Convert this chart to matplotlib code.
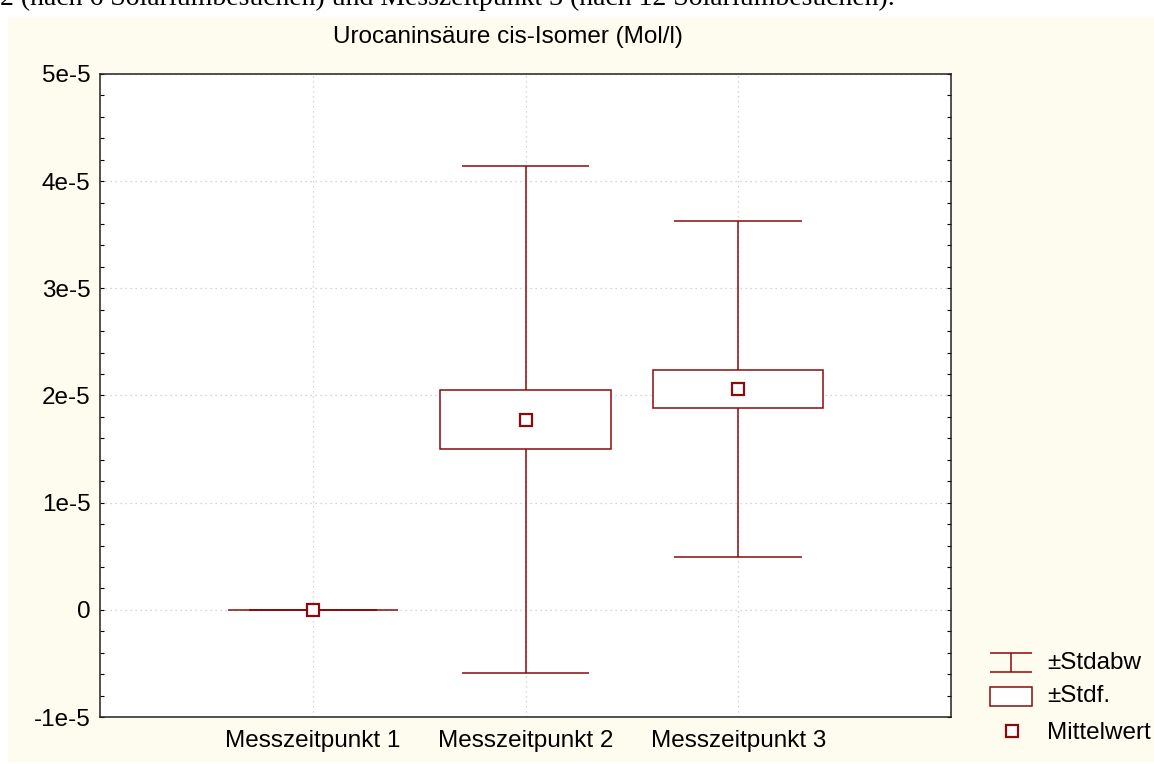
import matplotlib
matplotlib.use('Agg')
import matplotlib.pyplot as plt
from matplotlib.patches import Rectangle
from matplotlib.ticker import MultipleLocator

# Daten (Mittelwert, Standardfehler, Standardabweichung)
categories = ['Messzeitpunkt 1', 'Messzeitpunkt 2', 'Messzeitpunkt 3']
mittelwert = [1e-8, 1.775e-5, 2.06e-5]
stdf = [5e-9, 0.275e-5, 0.178e-5]
stdabw = [2e-8, 2.365e-5, 1.57e-5]
yticks = [-1e-5, 0, 1e-5, 2e-5, 3e-5, 4e-5, 5e-5]
ytick_labels = ['-1e-5', '0', '1e-5', '2e-5', '3e-5', '4e-5', '5e-5']

RED = '#8B0A0A'
CREAM = '#FEFCEE'
FONT = 'Liberation Sans'
FS = 17.5
W, H = 1154, 764

fig = plt.figure(figsize=(W / 100, H / 100), dpi=100, facecolor='white')

# cremefarbener Hintergrund + abgeschnittene Textzeile oben
fig.patches.append(Rectangle((8 / W, 2 / H), 1 - 8 / W, 1 - 20 / H,
                             transform=fig.transFigure, facecolor=CREAM,
                             edgecolor='none', zorder=-10))
fig.text(0.0, 1 - 5 / H,
         '2 (nach 6 Solariumbesuchen) und Messzeitpunkt 3 (nach 12 Solariumbesuchen).',
         family='Liberation Serif', fontsize=20, va='baseline', ha='left')

ax = fig.add_axes([100 / W, 1 - 717 / H, (951 - 100) / W, (717 - 74) / H])
ax.set_facecolor('white')

x = [1, 2, 3]
lo_sd = [m - s for m, s in zip(mittelwert, stdabw)]
hi_sd = [m + s for m, s in zip(mittelwert, stdabw)]
lo_se = [m - s for m, s in zip(mittelwert, stdf)]
hgt_se = [2 * s for s in stdf]

# Whisker
ax.vlines(x, lo_sd, hi_sd, color=RED, lw=1.1, zorder=2)
ax.hlines(lo_sd, [xi - 0.3 for xi in x], [xi + 0.3 for xi in x], color=RED, lw=1.1, zorder=2)
ax.hlines(hi_sd, [xi - 0.3 for xi in x], [xi + 0.3 for xi in x], color=RED, lw=1.1, zorder=2)
# Boxen
ax.bar(x, hgt_se, bottom=lo_se, width=0.8, facecolor='white', edgecolor=RED,
       linewidth=1.1, zorder=3)
# Mittelwert
ax.plot(x, mittelwert, linestyle='none', marker='s', markersize=8,
        markerfacecolor='white', markeredgecolor=RED, markeredgewidth=1.6, zorder=4)

ax.set_xlim(0, 4)
ax.set_ylim(-1e-5, 5e-5)
ax.set_xticks(x)
ax.set_xticklabels(categories, family=FONT, fontsize=FS)
ax.set_yticks(yticks)
ax.set_yticklabels(ytick_labels, family=FONT, fontsize=FS)
ax.yaxis.set_minor_locator(MultipleLocator(0.2e-5))
ax.tick_params(axis='x', length=0, pad=9)
ax.tick_params(axis='y', which='both', direction='in', left=True, right=True,
               length=3, width=0.8, pad=7)
ax.grid(True, which='major', color='#c8c8c8', linestyle=(0, (1, 3)), lw=0.9, zorder=0)
ax.set_axisbelow(True)
for sp in ax.spines.values():
    sp.set_color('#222222')
    sp.set_linewidth(1.1)

fig.text(508 / W, 1 - 37 / H, 'Urocaninsäure cis-Isomer (Mol/l)',
         family=FONT, fontsize=FS, ha='center', va='center')

# Legende
lax = fig.add_axes([960 / W, 1 - 750 / H, 194 / W, 110 / H])
lax.set_xlim(960, 1154)
lax.set_ylim(750, 640)
lax.axis('off')
lax.hlines([653, 672], 990, 1032, color=RED, lw=1.1)
lax.vlines(1011, 653, 672, color=RED, lw=1.1)
lax.add_patch(Rectangle((990, 687), 42, 19, facecolor='white', edgecolor=RED, lw=1.1))
lax.plot([1012], [731], linestyle='none', marker='s', markersize=8,
         markerfacecolor='white', markeredgecolor=RED, markeredgewidth=1.6)
for yy, txt in zip([663, 696, 733], ['±Stdabw', '±Stdf.', 'Mittelwert']):
    lax.text(1047, yy, txt, family=FONT, fontsize=FS, va='center', ha='left')

fig.savefig('out.png', dpi=100, facecolor='white')
